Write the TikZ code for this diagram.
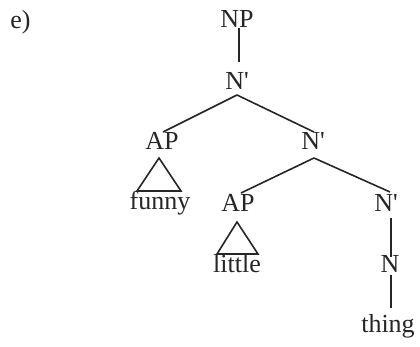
\documentclass[tikz,border=0pt]{standalone}
\usepackage{fontspec}
\newfontfamily\treefont{Liberation Serif}
\begin{document}
\begin{tikzpicture}[x=0.5pt,y=-0.5pt,
  lbl/.style={inner sep=0pt,anchor=base,font=\treefont\fontsize{13}{15}\selectfont,text=black!85},
  edge/.style={line width=0.8pt,draw=black!85}]
\useasboundingbox (0,0) rectangle (420,347);
\node[lbl,anchor=base west] (e) at (10,29) {e)};
\node[lbl] (np) at (237,28) {NP};
\node[lbl] (n1) at (237,90) {N'};
\node[lbl] (ap1) at (162,150) {AP};
\node[lbl] (n2) at (313,150) {N'};
\node[lbl] (funny) at (160,210) {funny};
\node[lbl] (ap2) at (238,212) {AP};
\node[lbl] (n3) at (386,212) {N'};
\node[lbl] (little) at (237,273) {little};
\node[lbl] (n) at (390,273) {N};
\node[lbl] (thing) at (388,333) {thing};
% connector points
\coordinate (np-b) at (239,28);
\coordinate (n1-t) at (239,62);
\coordinate (n1-b) at (237,95);
\coordinate (ap1-t) at (163,132);
\coordinate (n2-t) at (314,132);
\coordinate (n2-b) at (314,158);
\coordinate (ap2-t) at (241,193);
\coordinate (n3-t) at (390,192);
\coordinate (n3-b) at (391,218);
\coordinate (n-t) at (391,257);
\coordinate (n-b) at (391,275);
\coordinate (thing-t) at (391,308);
\draw[edge] (np-b) -- (n1-t);
\draw[edge] (n1-b) -- (ap1-t);
\draw[edge] (n1-b) -- (n2-t);
\draw[edge] (n2-b) -- (ap2-t);
\draw[edge] (n2-b) -- (n3-t);
\draw[edge] (n3-b) -- (n-t);
\draw[edge] (n-b) -- (thing-t);
% triangles
\draw[edge,line join=miter] (159,158) -- (137,191) -- (181,191) -- cycle;
\draw[edge,line join=miter] (237,222) -- (217,254) -- (258,254) -- cycle;
\end{tikzpicture}
\end{document}
